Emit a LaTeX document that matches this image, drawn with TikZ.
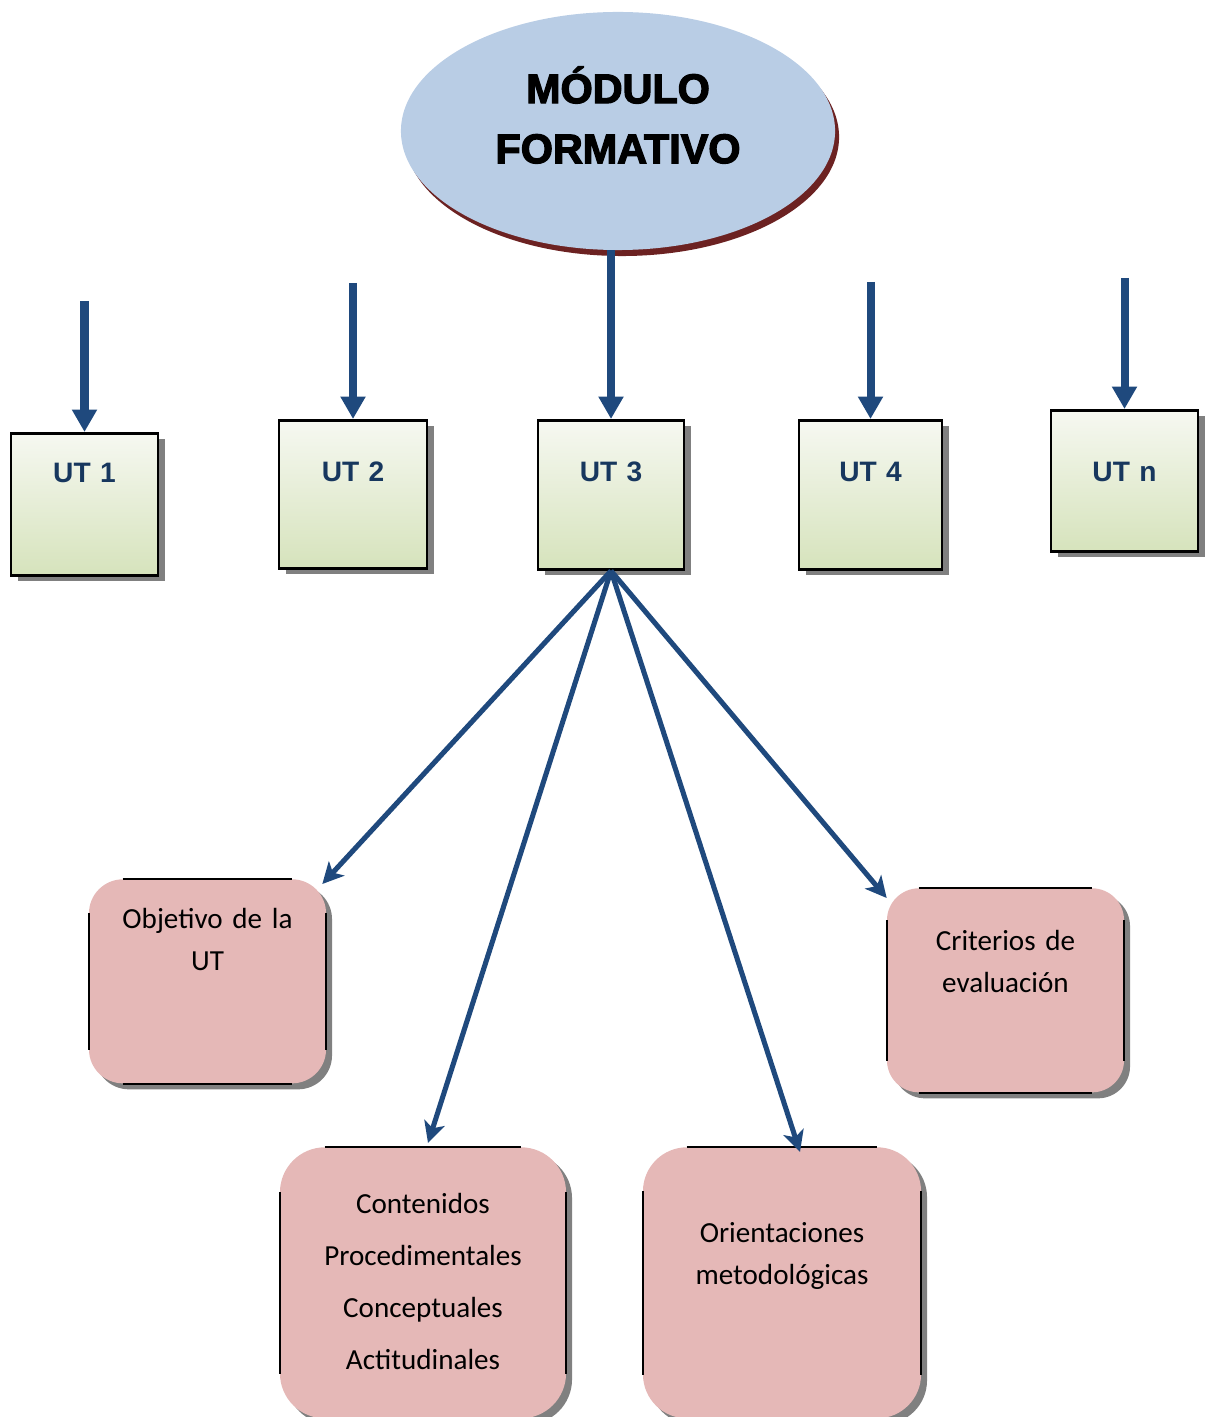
\documentclass[tikz,border=0pt]{standalone}
\usepackage{fontspec}
\setmainfont{Carlito}
\newfontfamily\arialfont{Liberation Sans}
\newfontfamily\titlefont[UprightFont={* Bold},UprightFeatures={FakeBold=3}]{Liberation Sans}
\usetikzlibrary{arrows.meta,shapes,shadows}
\definecolor{azulFlecha}{RGB}{31,73,125}
\definecolor{azulTexto}{RGB}{23,55,94}
\definecolor{azulModulo}{RGB}{185,205,229}
\definecolor{rojoSombra}{RGB}{108,34,34}
\definecolor{verdeArriba}{RGB}{246,248,241}
\definecolor{verdeAbajo}{RGB}{214,227,188}
\definecolor{rosaCaja}{RGB}{229,184,183}
\tikzstyle{modulo} = [ellipse, fill=azulModulo, minimum width=10.85cm, minimum height=5.95cm, drop shadow={shadow xshift=0.1cm, shadow yshift=-0.15cm, fill=rojoSombra, opacity=1}]
\tikzstyle{titulo} = [font=\titlefont\fontsize{29.4}{42.7}\selectfont, align=center]
\tikzstyle{ut} = [draw, line width=2pt, rectangle, anchor=north, inner sep=0pt, top color=verdeArriba, bottom color=verdeAbajo, font=\arialfont\bfseries\fontsize{20}{23}\selectfont, text=azulTexto, align=center, drop shadow={shadow xshift=0.175cm, shadow yshift=-0.15cm, fill=gray, opacity=1}]
\tikzstyle{caja} = [rectangle, fill=rosaCaja, anchor=north, inner sep=0pt, align=center, font=\fontsize{20.7}{29.9}\selectfont, drop shadow={shadow xshift=0.15cm, shadow yshift=-0.15cm, fill=gray, opacity=1}]
\tikzstyle{flecha} = [draw=azulFlecha, line width=5.7pt, -{Triangle[width=17pt,length=16pt,fill=azulFlecha]}]
\tikzstyle{rama} = [draw=azulFlecha, line width=3.6pt, -{Stealth[width=15pt,length=15pt,inset=4pt,fill=azulFlecha]}]
\tikzstyle{borde} = [line width=1.4pt]
% only the straight parts of a box edge are drawn
\newcommand{\bordes}[2]{%
  \draw[borde] ([xshift=#2]#1.north west) -- ([xshift=-#2]#1.north east);
  \draw[borde] ([xshift=#2]#1.south west) -- ([xshift=-#2]#1.south east);
  \draw[borde] ([yshift=-#2]#1.north west) -- ([yshift=#2]#1.south west);
  \draw[borde] ([yshift=-#2]#1.north east) -- ([yshift=#2]#1.south east);}

\begin{document}
\begin{tikzpicture}[x=0.025cm, y=-0.025cm]
  \useasboundingbox (0,0) rectangle (1205,1417);

  \node[modulo] (modulo) at (618,131) {};
  \node[titulo] (titulo) at (618,115) {MÓDULO\\FORMATIVO};

  \node[ut, text width=3.675cm, text height=1.225cm, text depth=2.325cm] (ut1) at (84.5,432) {UT 1};
  \node[ut, text width=3.7cm, text height=1.525cm, text depth=2.175cm] (ut2) at (353,419) {UT 2};
  \node[ut, text width=3.65cm, text height=1.525cm, text depth=2.2cm] (ut3) at (611,419) {UT 3};
  \node[ut, text width=3.575cm, text height=1.525cm, text depth=2.2cm] (ut4) at (870.5,419) {UT 4};
  \node[ut, text width=3.675cm, text height=1.775cm, text depth=1.75cm] (utn) at (1124.5,409) {UT n};

  \coordinate (a1) at (84.5,301);
  \coordinate (a2) at (353,283);
  \coordinate (a4) at (870.5,282);
  \coordinate (an) at (1124.5,278);
  \draw[flecha] (a1) -- (ut1.north);
  \draw[flecha] (a2) -- (ut2.north);
  \draw[flecha] (ut3.north |- modulo.south) -- (ut3.north);
  \draw[flecha] (a4) -- (ut4.north);
  \draw[flecha] (an) -- (utn.north);

  \node[caja, rounded corners=0.85cm, text width=5.925cm, text height=1.225cm, text depth=3.875cm] (obj) at (207.5,879) {Objetivo de la\\UT};
  \node[caja, rounded corners=1.125cm, text width=7.15cm, text height=1.65cm, text depth=5.125cm, font=\fontsize{20.7}{37}\selectfont] (cont) at (423,1147) {Contenidos\\Procedimentales\\Conceptuales\\Actitudinales};
  \node[caja, rounded corners=1.1cm, text width=6.95cm, text height=2.375cm, text depth=4.4cm] (ori) at (782,1147) {Orientaciones\\metodológicas};
  \node[caja, rounded corners=0.8cm, text width=5.925cm, text height=1.55cm, text depth=3.55cm] (crit) at (1005.5,888) {Criterios de\\evaluación};
  \bordes{obj}{0.85cm}
  \bordes{cont}{1.125cm}
  \bordes{ori}{1.1cm}
  \bordes{crit}{0.8cm}

  \draw[rama] (ut3.south) -- ([xshift=-0.1cm, yshift=-0.125cm]obj.north east);
  \draw[rama] (ut3.south) -- ([xshift=0.125cm, yshift=0.1cm]cont.north);
  \draw[rama] (ut3.south) -- ([xshift=0.45cm, yshift=-0.125cm]ori.north);
  \draw[rama] (ut3.south) -- ([yshift=-0.25cm]crit.north west);
\end{tikzpicture}
\end{document}
